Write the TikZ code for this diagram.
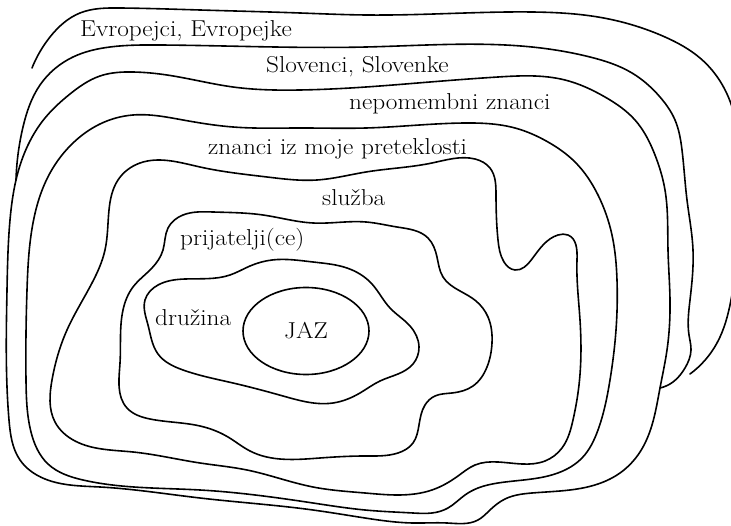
\documentclass[tikz,border=0pt]{standalone}
\usepackage{fontspec}
\setmainfont{Latin Modern Roman}[FakeStretch=1.1]
\usetikzlibrary{shapes.geometric,hobby}

\begin{document}
\begin{tikzpicture}
    [x=1pt,y=-1pt,%
      every node/.style={font=\fontsize{23}{27}\selectfont,inner sep=0pt},%
      contour/.style={line width=1.6pt,line join=round,line cap=round}]
    \useasboundingbox (0,0) rectangle (731,526);
    % outer open lines
    \draw[contour] plot[hobby] coordinates {(32,68) (50,37) (80,13) (120,8) (200,10)
      (300,13) (366,15) (465,13) (532,12) (598,17) (665,37) (700,58) (718,78) (733,110)
      (740,170) (738,240) (731,300) (717,343) (690,374)};
    \draw[contour] plot[hobby] coordinates {(16,180) (23,127) (40,85) (73,57) (110,47)
      (160,45) (366,47) (532,47) (590,57) (632,73) (660,97) (675,120) (682,150) (687,200)
      (693,250) (690,300) (689,335) (691,350) (685,368) (673,382) (660,388)};
    % closed rings
    \draw[contour] plot[closed hobby] coordinates {(16,180) (28,145) (45,118) (70,94)
      (100,76) (133,72) (167,75) (233,87) (300,90) (366,87) (430,82) (498,77) (565,80)
      (605,97) (635,120) (655,155) (665,190) (668,250) (670,300) (667,350) (660,388)
      (652,425) (640,452) (620,473) (598,484) (532,493) (505,499) (490,510) (478,520)
      (447,523) (413,523) (365,518) (313,510) (200,498) (100,487) (45,479) (20,460)
      (9,420) (7,290) (10,220)};
    \draw[contour] plot[closed hobby] coordinates {(133,115) (183,120) (233,127) (300,128)
      (366,128) (465,123) (515,128) (548,142) (575,162) (598,195) (612,235) (617,280)
      (616,330) (610,380) (598,430) (582,458) (548,476) (498,483) (478,488) (465,495)
      (448,508) (432,513) (413,513) (365,510) (313,503) (200,490) (83,480) (48,464)
      (31,432) (26,380) (27,290) (33,223) (50,173) (73,143) (100,124)};
    \draw[contour] plot[closed hobby] coordinates {(140,163) (200,167) (267,177) (317,180)
      (366,172) (432,163) (475,159) (490,168) (496,195) (498,240) (504,262) (515,270)
      (532,259) (558,235) (568,235) (577,260) (580,320) (579,385) (573,420) (562,448)
      (545,461) (498,462) (475,465) (458,476) (432,490) (398,495) (365,493) (313,487)
      (247,470) (200,463) (133,452) (75,441) (55,422) (52,380) (67,330) (92,283)
      (105,250) (109,210) (118,180)};
    \draw[contour] plot[closed hobby] coordinates {(168,228) (183,215) (213,212) (263,215)
      (313,223) (366,222) (397,227) (428,238) (437,257) (443,277) (460,291) (476,301)
      (488,317) (492,343) (487,367) (473,386) (452,393) (435,396) (425,405) (419,425)
      (413,443) (398,453) (365,456) (320,458) (250,451) (228,437) (200,426) (150,419)
      (127,408) (120,363) (123,310) (133,287) (152,268) (163,250)};
    \draw[contour] plot[closed hobby] coordinates {(145,300) (158,285) (185,279) (230,275)
      (250,266) (272,260) (313,262) (347,268) (372,284) (390,308) (410,326) (419,347)
      (413,364) (398,374) (380,381) (360,393) (333,403) (283,396) (233,383) (183,370)
      (158,354) (148,325)};
    % labels
    \node[anchor=base west] (evropa) at (80,37) {Evropejci, Evropejke};
    \node[anchor=base west] (slovenija) at (266,73) {Slovenci, Slovenke};
    \node[anchor=base west] (nepomembni) at (349,110) {nepomembni znanci};
    \node[anchor=base west] (preteklost) at (208,155) {znanci iz moje preteklosti};
    \node[anchor=base west] (sluzba) at (322,206) {služba};
    \node[anchor=base west] (prijatelji) at (180,246) {prijatelji(ce)};
    \node[anchor=base west] (druzina) at (155,326) {družina};
    \node[ellipse,draw,line width=1.6pt,minimum width=126pt,minimum height=87pt]
      (jaz) at (306,331) {JAZ};
\end{tikzpicture}
\end{document}
